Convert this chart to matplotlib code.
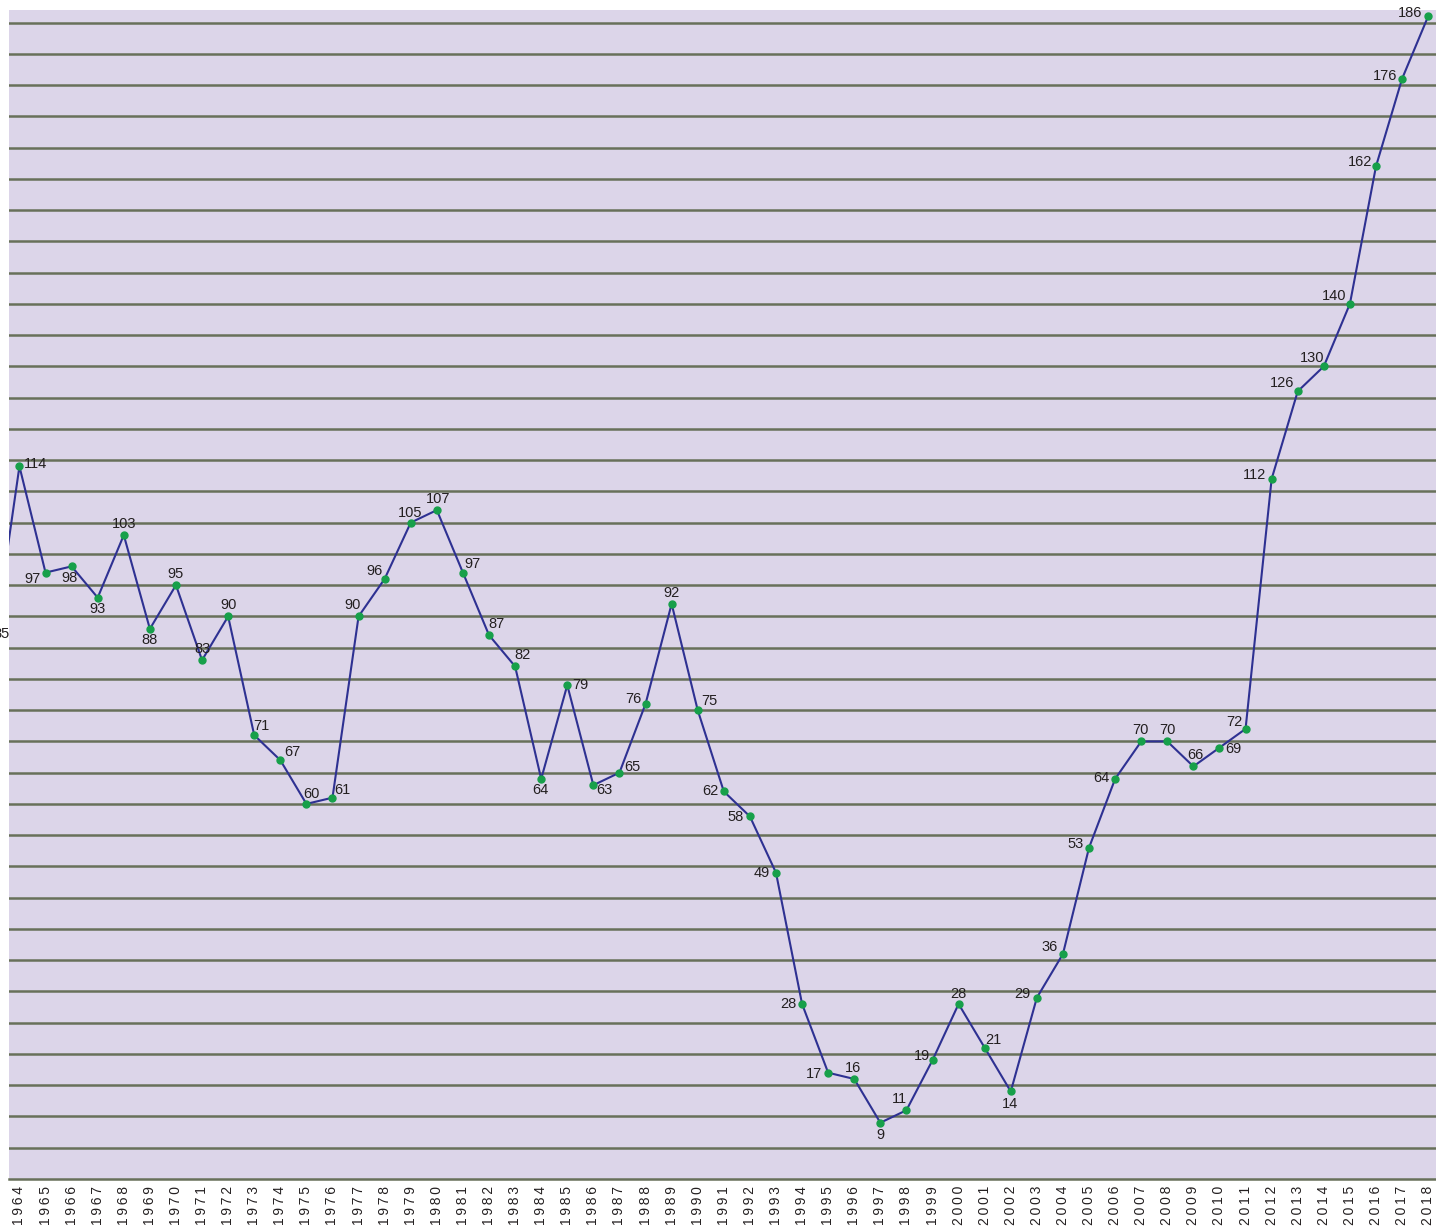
import matplotlib
matplotlib.use("Agg")
import matplotlib.pyplot as plt
import numpy as np

years = list(range(1963, 2019))
values = [85, 114, 97, 98, 93, 103, 88, 95, 83, 90, 71, 67, 60, 61, 90, 96, 105, 107,
          97, 87, 82, 64, 79, 63, 65, 76, 92, 75, 62, 58, 49, 28, 17, 16, 9, 11, 19,
          28, 21, 14, 29, 36, 53, 64, 70, 70, 66, 69, 72, 112, 126, 130, 140, 162,
          176, 186]
tick_years = list(range(1964, 2019))
tick_labels = ["\u2009".join(str(y)) for y in tick_years]

# label offsets in pixels (dx, dy up) relative to each point
label_offsets = [(8, 14), (16, 2), (-13, -6), (-2, -12), (0, -11), (0, 11), (0, -11),
                 (0, 11), (0, 11), (0, 11), (7, 9), (12, 8), (5, 10), (10, 8), (-6, 11),
                 (-10, 8), (-1, 10), (1, 11), (10, 9), (7, 11), (7, 11), (-1, -11),
                 (13, 0), (11, -5), (13, 6), (-12, 5), (0, 11), (12, 9), (-13, 0),
                 (-14, -1), (-14, 0), (-14, 0), (-14, -1), (-1, 11), (0, -12), (-7, 11),
                 (-11, 4), (0, 10), (9, 8), (-1, -13), (-14, 4), (-13, 7), (-13, 4),
                 (-14, 1), (-1, 11), (0, 11), (2, 11), (14, -1), (-11, 7), (-17, 4),
                 (-16, 8), (-12, 8), (-16, 8), (-16, 4), (-17, 3), (-18, 3)]

W, H = 1436, 1232
fig = plt.figure(figsize=(W / 100, H / 100), dpi=100, facecolor="white")
ax = fig.add_axes([9 / W, (H - 1179) / H, (W - 9) / W, (1179 - 10) / H])
ax.set_facecolor("#DCD5E9")

grid_color = "#68705A"
for v in np.arange(5, 186, 5):
    ax.axhline(v, color=grid_color, lw=1.8, zorder=1)

ax.plot(years, values, color="#2E3192", lw=1.5, zorder=3)
ax.plot(years, values, "o", color="#17A04A", ms=5, mec="#17A04A", zorder=4,
        clip_on=False)

for x, v, (dx, dy) in zip(years, values, label_offsets):
    ax.annotate(str(v), (x, v), xytext=(dx, dy), textcoords="offset pixels",
                ha="center", va="center", fontsize=10.5, color="#231F20",
                family=["Liberation Sans", "DejaVu Sans"],
                annotation_clip=False, zorder=5)

ax.set_xlim(1963.6, 2018.3)
ax.set_ylim(0, 187)
ax.set_yticks([])
ax.set_xticks(tick_years)
ax.set_xticklabels(tick_labels, rotation=90, ha="center", va="top",
                   fontsize=10, family=["Liberation Sans", "DejaVu Sans"], color="#231F20")
ax.tick_params(axis="x", length=0, pad=5)
for s in ["top", "left", "right"]:
    ax.spines[s].set_visible(False)
ax.spines["bottom"].set_color(grid_color)
ax.spines["bottom"].set_linewidth(1.8)

fig.savefig("out.png", dpi=100, facecolor="white")
